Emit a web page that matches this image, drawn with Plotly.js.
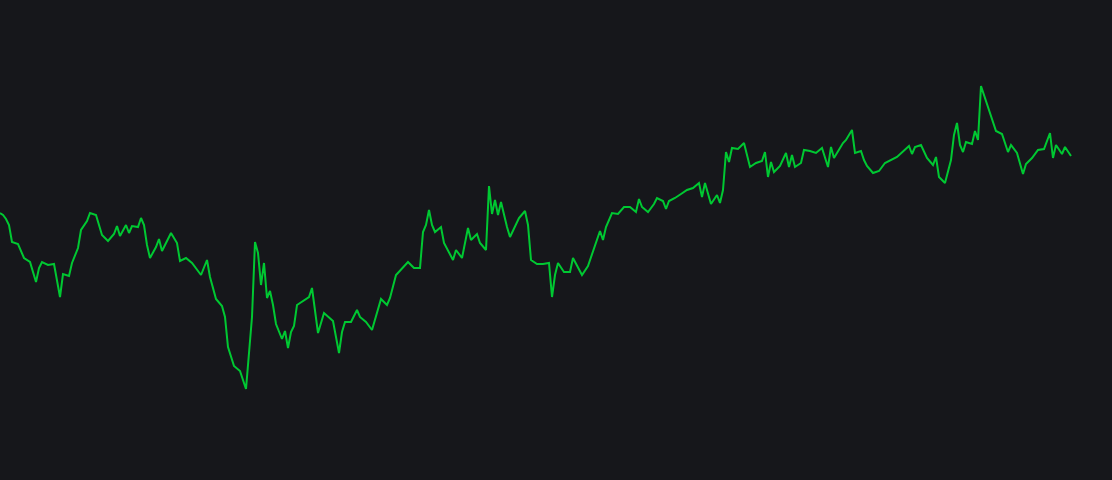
<!DOCTYPE html>
<html>
<head>
<meta charset="utf-8">
<script src="https://cdn.plot.ly/plotly-3.0.1.min.js"></script>
<style>
  html, body { margin: 0; padding: 0; background: #16171b; }
  #chart { width: 1112px; height: 480px; }
</style>
</head>
<body>
<div id="chart"></div>
<script>
// Day index of each turning point in the series
const days = [0, 1, 2, 3, 4, 6, 8, 10, 12, 13, 14, 16, 18, 20, 21, 23, 24, 26, 27, 29,
  30, 32, 34, 36, 38, 39, 40, 42, 43, 44, 46, 47, 48, 49, 50, 52, 53, 54, 57, 59,
  60, 62, 64, 67, 69, 70, 72, 74, 75, 76, 78, 80, 82, 84, 85, 86, 87, 88, 89, 90,
  91, 92, 94, 95, 96, 97, 98, 99, 103, 104, 106, 108, 111, 113, 114, 115, 117, 119, 120, 122,
  124, 127, 129, 130, 132, 134, 136, 138, 140, 141, 142, 143, 144, 145, 147, 148, 151, 152, 154, 156,
  157, 159, 160, 162, 163, 164, 165, 166, 167, 169, 170, 173, 175, 176, 177, 179, 181, 183, 184, 185,
  186, 188, 190, 191, 194, 196, 200, 201, 202, 204, 206, 208, 210, 212, 213, 214, 216, 218, 219, 221,
  222, 223, 225, 227, 229, 231, 233, 234, 235, 237, 239, 240, 241, 242, 243, 244, 246, 248, 250, 252,
  254, 255, 256, 257, 258, 260, 262, 263, 264, 265, 267, 268, 270, 272, 274, 276, 277, 278, 281, 282,
  284, 285, 287, 288, 289, 291, 293, 295, 299, 303, 304, 305, 307, 309, 311, 312, 313, 315, 317, 318,
  319, 320, 321, 322, 324, 325, 326, 327, 330, 332, 334, 336, 337, 339, 341, 342, 344, 346, 348, 350,
  351, 352, 354, 355, 357];

// Value at each of those days
const values = [267, 265, 261, 255, 238, 236, 222, 218, 198, 212, 218, 215, 216, 183, 206, 204, 217, 232, 250, 259,
  267, 265, 245, 239, 246, 254, 244, 255, 247, 254, 253, 262, 255, 235, 222, 233, 241, 229, 247, 237,
  219, 222, 217, 205, 220, 203, 181, 174, 163, 133, 114, 109, 91, 163, 238, 227, 195, 217, 182, 189,
  175, 156, 141, 149, 132, 148, 154, 175, 183, 192, 147, 167, 159, 127, 148, 158, 158, 170, 163, 158,
  150, 181, 175, 182, 205, 212, 218, 212, 212, 248, 255, 270, 255, 248, 253, 237, 220, 230, 222, 252,
  240, 246, 237, 230, 294, 266, 280, 265, 278, 253, 243, 262, 269, 255, 220, 216, 216, 217, 183, 205,
  217, 208, 208, 222, 205, 214, 249, 240, 253, 267, 266, 273, 273, 268, 281, 273, 268, 276, 282, 279,
  271, 279, 282, 286, 290, 292, 297, 283, 297, 276, 285, 277, 290, 328, 318, 332, 331, 337, 313, 317,
  319, 328, 303, 318, 308, 314, 327, 313, 325, 313, 317, 330, 329, 327, 332, 313, 333, 322, 337, 340,
  350, 327, 329, 320, 314, 307, 309, 317, 323, 334, 326, 333, 335, 322, 315, 323, 303, 297, 320, 345,
  357, 335, 328, 338, 336, 349, 340, 394, 368, 349, 346, 328, 335, 327, 306, 316, 322, 330, 331, 347,
  322, 335, 326, 333, 324];

const trace = {
  x: days,
  y: values,
  mode: 'lines',
  type: 'scatter',
  line: { color: '#00c832', width: 2 },
  hoverinfo: 'skip',
};

const layout = {
  width: 1112,
  height: 480,
  margin: { l: 0, r: 0, t: 0, b: 0 },
  paper_bgcolor: '#16171b',
  plot_bgcolor: '#16171b',
  showlegend: false,
  xaxis: { visible: false, range: [0, 370.67], fixedrange: true },
  yaxis: { visible: false, range: [0, 480], fixedrange: true },
};

Plotly.newPlot('chart', [trace], layout, { staticPlot: true, displayModeBar: false });
</script>
</body>
</html>
